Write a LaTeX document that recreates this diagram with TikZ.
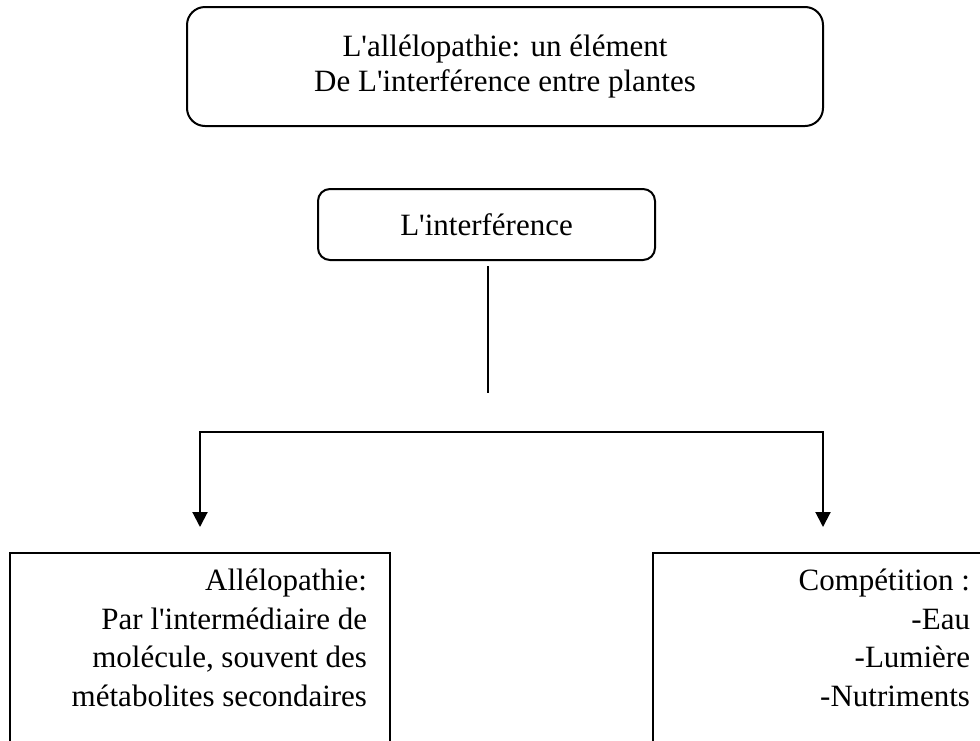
\documentclass[tikz,border=0pt]{standalone}
\usepackage{fontspec}
\setmainfont{Liberation Serif}
\usetikzlibrary{arrows.meta}
\newcommand{\ap}{\textquotesingle}

\begin{document}
\begin{tikzpicture}
  [x=0.75pt,y=-0.75pt,line width=1.5pt,
   every node/.style={font=\fontsize{23.25pt}{24pt}\selectfont},
   roundbox/.style={draw,rounded corners=#1,inner sep=0pt,align=center},
   plainbox/.style={draw,inner sep=0pt,anchor=north,minimum height=150pt},
   boxtext/.style={align=right,inner sep=0pt,anchor=north east},
   arrowline/.style={-{Triangle[width=11.25pt,length=11.25pt]},shorten >=18.75pt}]
  \useasboundingbox (0,0) rectangle (980,740);
  \node[roundbox=13.5pt,minimum width=477pt,minimum height=89.25pt,
        font=\fontsize{23.25pt}{26.25pt}\selectfont] (title) at (505,66.5)
       {L\ap allélopathie: un élément\\De L\ap interférence entre plantes};
  \node[roundbox=9pt,minimum width=252.75pt,minimum height=53.25pt] (inter) at (486.5,224.5) {L\ap interférence};
  \node[plainbox,minimum width=285pt] (allelo) at (200,552) {};
  \node[plainbox,minimum width=255pt] (compet) at (823,552) {};
  \node[boxtext] (alleloText) at ([xshift=-17.25pt,yshift=-12pt]allelo.north east)
       {Allélopathie:\\[5pt]Par l\ap intermédiaire de\\[5pt]molécule, souvent des\\[5pt]métabolites secondaires};
  \node[boxtext] (competText) at ([xshift=-17.25pt,yshift=-12pt]compet.north east)
       {Compétition :\\[5pt]-Eau\\[5pt]-Lumière\\[5pt]-Nutriments};
  \coordinate (stem) at (488,393);
  \coordinate (fork) at (488,432);
  \draw ([yshift=-3.75pt]stem |- inter.south) -- (stem);
  \foreach \to in {allelo,compet}
    \draw[arrowline] (fork) -| (\to.north);
\end{tikzpicture}
\end{document}
